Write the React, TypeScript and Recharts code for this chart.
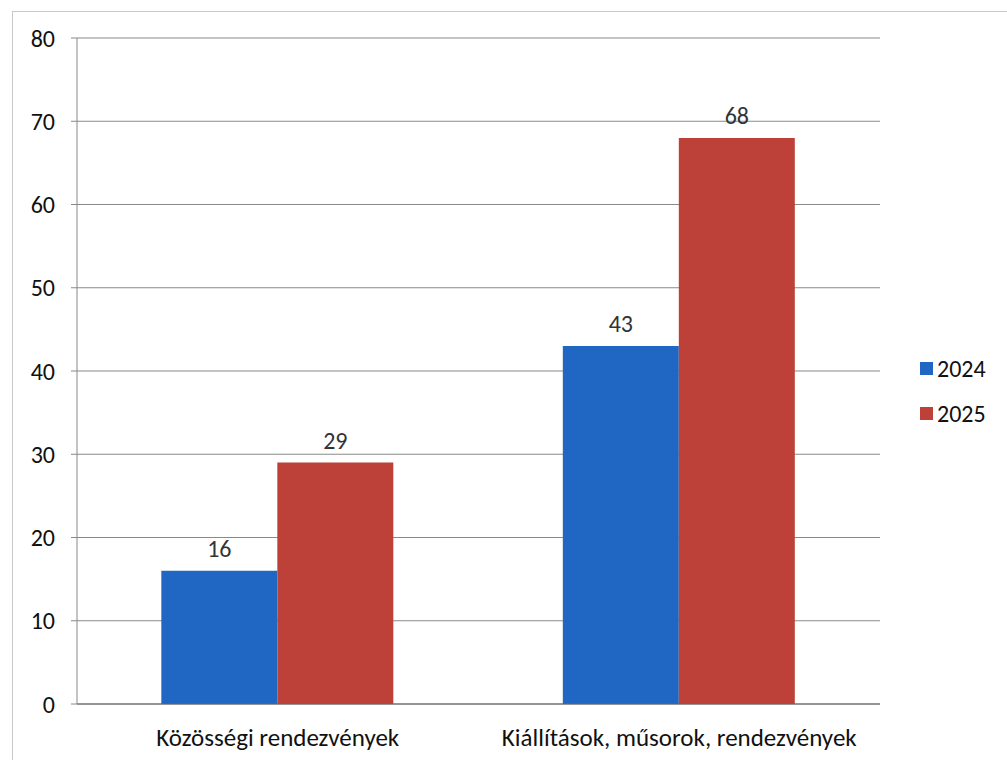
import { BarChart, Bar, XAxis, YAxis, CartesianGrid, LabelList } from 'recharts';

const categories = ['Közösségi rendezvények', 'Kiállítások, műsorok, rendezvények'];
const values2024 = [16, 43];
const values2025 = [29, 68];
const yTicks = [0, 10, 20, 30, 40, 50, 60, 70, 80];

const series = [
  { key: 'y2024', name: '2024', color: '#1f67c2' },
  { key: 'y2025', name: '2025', color: '#be4139' },
];

const data = categories.map((name, i) => ({
  name,
  y2024: values2024[i],
  y2025: values2025[i],
}));

const FONT = 'Carlito, Lato, "Open Sans", sans-serif';

export default function App() {
  return (
    <div style={{ position: 'absolute', left: 0, top: 0, width: 1007, height: 760, background: '#fff', overflow: 'hidden', fontFamily: FONT }}>
      <div style={{ position: 'absolute', left: 12, top: 11, width: 1000, height: 760, border: '1px solid #c8c8c8' }} />
      <BarChart
        width={1007}
        height={760}
        data={data}
        margin={{ top: 38, right: 127, bottom: 8, left: 12 }}
        barCategoryGap="21%"
        barGap={0}
        style={{ position: 'absolute', left: 0, top: 0 }}
      >
        <CartesianGrid vertical={false} stroke="#8a8a8a" strokeWidth={1.2} />
        <XAxis
          dataKey="name"
          stroke="#666"
          tickLine={false}
          tick={{ fill: '#111', fontSize: 25 }}
          tickMargin={18}
          height={48}
        />
        <YAxis
          domain={[0, 80]}
          ticks={yTicks}
          width={65}
          stroke="#888"
          tickSize={6}
          tick={{ fill: '#111', fontSize: 24 }}
          tickMargin={16}
        />
        {series.map((s) => (
          <Bar key={s.key} dataKey={s.key} name={s.name} fill={s.color} isAnimationActive={false}>
            <LabelList dataKey={s.key} position="top" offset={14} fill="#333" fontSize={24} />
          </Bar>
        ))}
      </BarChart>
      <div style={{ position: 'absolute', left: 920, top: 346, fontSize: 24, color: '#111' }}>
        {series.map((s) => (
          <div key={s.key} style={{ display: 'flex', alignItems: 'center', height: 45 }}>
            <span style={{ width: 13, height: 13, background: s.color, marginRight: 4, display: 'inline-block' }} />
            {s.name}
          </div>
        ))}
      </div>
    </div>
  );
}
